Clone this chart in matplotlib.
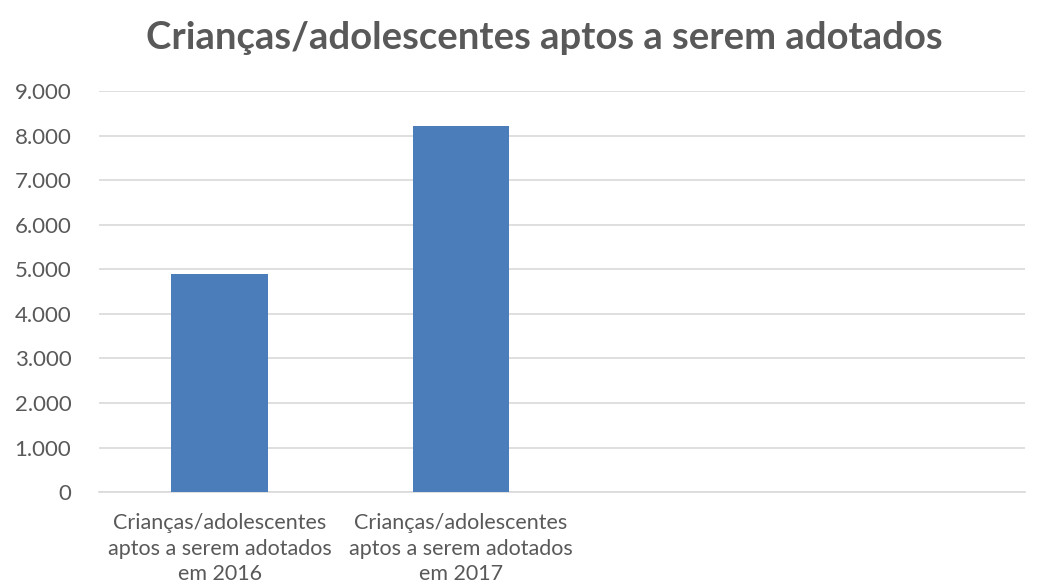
import matplotlib
matplotlib.use("Agg")
import matplotlib.pyplot as plt
from matplotlib.ticker import FuncFormatter

# categories and counts
categories = [
    "Crianças/adolescentes\naptos a serem adotados\nem 2016",
    "Crianças/adolescentes\naptos a serem adotados\nem 2017",
]
counts = [4900, 8220]
y_ticks = [0, 1000, 2000, 3000, 4000, 5000, 6000, 7000, 8000, 9000]

TEXT = "#595959"
GRID = "#D9D9D9"
BAR = "#4A7DBA"

plt.rcParams["font.family"] = ["Lato", "DejaVu Sans"]


def thousands(v, pos):
    # Portuguese style: dot as thousands separator
    return f"{int(v):,}".replace(",", ".")


def main():
    fig = plt.figure(figsize=(10.54, 5.88), dpi=100)
    ax = fig.add_axes([0.094, 0.163, 0.8785, 0.682])

    x = list(range(len(categories)))
    ax.bar(x, counts, width=0.4, color=BAR, zorder=3)

    ax.set_ylim(0, 9000)
    ax.set_xlim(-0.5, 3.34)
    ax.set_yticks(y_ticks)
    ax.yaxis.set_major_formatter(FuncFormatter(thousands))
    ax.set_xticks(x)
    ax.set_xticklabels(categories)

    ax.grid(axis="y", color=GRID, linewidth=1.2, zorder=0)
    for side in ["top", "right", "left"]:
        ax.spines[side].set_visible(False)
    ax.spines["bottom"].set_color(GRID)
    ax.spines["bottom"].set_linewidth(1.2)

    ax.tick_params(axis="y", length=0, pad=20, labelsize=16, labelcolor=TEXT)
    ax.tick_params(axis="x", length=0, pad=15, labelsize=15.5, labelcolor=TEXT)
    for lbl in ax.get_xticklabels():
        lbl.set_linespacing(1.35)

    fig.text(0.516, 0.935, "Crianças/adolescentes aptos a serem adotados",
             ha="center", va="center", fontsize=27.5, fontweight="bold", color=TEXT)

    fig.savefig("out.png", dpi=100, facecolor="white")


if __name__ == "__main__":
    main()
